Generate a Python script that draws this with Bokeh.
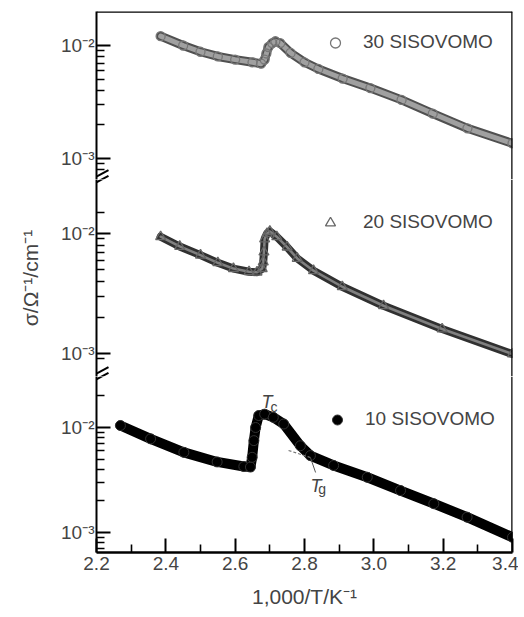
from bokeh.plotting import figure
from bokeh.models import Range1d, FixedTicker, Span, Label, Legend, LegendItem, PrintfTickFormatter, Arrow
from bokeh.layouts import column
from bokeh.embed import file_html
from bokeh.resources import INLINE

FONT = "Liberation Sans"

# ---------------- data ----------------
s30_x = [2.385, 2.45, 2.50, 2.55, 2.60, 2.65, 2.675, 2.685, 2.690, 2.696, 2.707, 2.716,
         2.73, 2.76, 2.80, 2.84, 2.91, 2.99, 3.08, 3.17, 3.27, 3.40]
s30_sigma = [0.0121, 0.0100, 0.0088, 0.0080, 0.0075, 0.0071, 0.0069, 0.0075, 0.0085, 0.0097,
             0.0105, 0.0109, 0.0105, 0.0086, 0.0071, 0.0062, 0.0051, 0.0042, 0.0033, 0.0025,
             0.00185, 0.00136]

s20_x = [2.385, 2.44, 2.50, 2.55, 2.595, 2.64, 2.663, 2.678, 2.681, 2.683, 2.685, 2.692,
         2.700, 2.72, 2.75, 2.779, 2.826, 2.909, 3.028, 3.197, 3.40]
s20_sigma = [0.0094, 0.0078, 0.0066, 0.0057, 0.0051, 0.0048, 0.00476, 0.0051, 0.0058, 0.0070,
             0.0090, 0.0100, 0.0104, 0.0094, 0.0077, 0.0062, 0.0049, 0.0036, 0.0025, 0.0016,
             0.00099]

s10_x = [2.269, 2.356, 2.452, 2.548, 2.625, 2.644, 2.649, 2.654, 2.659, 2.668, 2.685, 2.71,
         2.740, 2.788, 2.817, 2.884, 2.981, 3.077, 3.173, 3.269, 3.40]
s10_sigma = [0.01045, 0.0078, 0.0058, 0.0047, 0.00425, 0.0042, 0.0052, 0.0075, 0.0100, 0.0130,
             0.0134, 0.0125, 0.0108, 0.0067, 0.0054, 0.00435, 0.00336, 0.00251, 0.00188,
             0.0014, 0.0009]

# Tg construction lines (10 SISOVOMO)
tg_tangent_x = [2.754, 2.817]
tg_tangent_sigma = [0.00604, 0.00518]
tg_pointer_x = [2.817, 2.832]
tg_pointer_sigma = [0.00518, 0.00373]

series_labels = ["30 SISOVOMO", "20 SISOVOMO", "10 SISOVOMO"]

x_major_ticks = [2.2, 2.4, 2.6, 2.8, 3.0, 3.2, 3.4]
x_minor_ticks = [2.3, 2.5, 2.7, 2.9, 3.1, 3.3]
y_major_ticks = [0.001, 0.01]
y_tick_labels = {0.001: "10\u207b\u00b3", 0.01: "10\u207b\u00b2"}
minor_top = [0.0008, 0.0009, 0.002, 0.003, 0.004, 0.005, 0.006, 0.007, 0.008, 0.009]
minor_mid = [0.0009, 0.002, 0.003, 0.004, 0.005, 0.006, 0.007, 0.008, 0.009, 0.015]
minor_bot = [0.0007, 0.0008, 0.0009, 0.002, 0.003, 0.004, 0.005, 0.006, 0.007, 0.008, 0.009, 0.02]

x_label = "1,000/T/K\u207b\u00b9"
y_label = "\u03c3/\u03a9\u207b\u00b9/cm\u207b\u00b9"

# ---------------- layout ----------------
LEFT = 96
RIGHT = 6
FRAME_W = 416
W = LEFT + FRAME_W + RIGHT
X0, X1 = 2.2, 3.4
xr = Range1d(X0, X1)
PX_X = (X1 - X0) / FRAME_W  # data units per pixel along x


def panel(height, y0, y1, top, bottom, minor, with_xaxis):
    p = figure(width=W, height=height, x_range=xr, y_range=Range1d(y0, y1),
               y_axis_type="log", x_axis_location="below" if with_xaxis else None,
               toolbar_location=None, output_backend="svg", title=None,
               min_border_left=LEFT, min_border_right=RIGHT,
               min_border_top=top, min_border_bottom=bottom)
    p.outline_line_color = None
    p.xgrid.visible = False
    p.ygrid.visible = False
    ax = p.yaxis[0]
    ax.ticker = FixedTicker(ticks=y_major_ticks, minor_ticks=minor)
    ax.major_label_overrides = y_tick_labels
    ax.axis_line_width = 2
    ax.major_tick_in = 14
    ax.major_tick_out = 0
    ax.minor_tick_in = 8
    ax.minor_tick_out = 0
    ax.major_tick_line_width = 2
    ax.minor_tick_line_width = 1.6
    ax.major_label_text_font = FONT
    ax.major_label_text_font_size = "19px"
    ax.major_label_standoff = 2
    p.add_layout(Span(location=X1, dimension="height", line_color="black", line_width=2.5))
    return p


def break_marks(p, b, decade_px):
    # two parallel slanted strokes crossing the left axis at the panel boundary b
    def yv(dy):  # dy pixels downward from boundary
        return b * 10 ** (-dy / decade_px)
    for off in (-2.8, 2.8):
        p.add_layout(Arrow(x_start=X0 - 13 * PX_X, y_start=yv(7.0 + off),
                           x_end=X0 + 12 * PX_X, y_end=yv(-6.5 + off),
                           start=None, end=None, line_color="black", line_width=2))


def legend(p, label, r, loc, standoff):
    lg = Legend(items=[LegendItem(label=label, renderers=[r])], location=loc,
                glyph_width=40, glyph_height=25, label_height=25, label_standoff=standoff,
                padding=0, margin=0, spacing=0, border_line_color=None,
                background_fill_alpha=0, label_text_font=FONT, label_text_font_size="19px")
    p.add_layout(lg)


# panel ranges chosen so that decades sit where they sit in the picture
D1, D2, D3 = 113, 120, 105
p1_lo, p1_hi = 10 ** (-3 - 21 / D1), 10 ** (-2 + 34 / D1)
p2_lo, p2_hi = 10 ** (-3 - 23 / D2), 10 ** (-2 + 54 / D2)
p3_lo, p3_hi = 10 ** (-3 - 20 / D3), 10 ** (-2 + 51 / D3)

p1 = panel(179, p1_lo, p1_hi, 11, 0, minor_top, False)
p2 = panel(197, p2_lo, p2_hi, 0, 0, minor_mid, False)
p3 = panel(239, p3_lo, p3_hi, 0, 63, minor_bot, True)

p1.add_layout(Span(location=p1_hi, dimension="width", line_color="black", line_width=2.5))

# 30 SISOVOMO
p1.line(s30_x, s30_sigma, line_color="#505050", line_width=9, line_join="round", line_cap="round")
p1.line(s30_x, s30_sigma, line_color="#a0a0a0", line_width=5, line_join="round", line_cap="round")
r30 = p1.scatter(s30_x, s30_sigma, marker="circle", size=9, fill_color=None,
                 line_color="#777777", line_width=1.3)
legend(p1, series_labels[0], r30, (219, 124.5), 8)

# 20 SISOVOMO
p2.line(s20_x, s20_sigma, line_color="#303030", line_width=8, line_join="round", line_cap="round")
p2.line(s20_x, s20_sigma, line_color="#808080", line_width=2.5, line_join="round", line_cap="round")
r20 = p2.scatter(s20_x, s20_sigma, marker="triangle", size=10, fill_color=None,
                 line_color="#666666", line_width=1.3)
legend(p2, series_labels[1], r20, (214, 141.5), 13)

# 10 SISOVOMO
p3.line(s10_x, s10_sigma, line_color="black", line_width=10, line_join="round", line_cap="round")
r10 = p3.scatter(s10_x, s10_sigma, marker="circle", size=10, fill_color="black",
                 line_color="#333333", line_width=1)
legend(p3, series_labels[2], r10, (221, 120.5), 8)

p3.line(tg_tangent_x, tg_tangent_sigma, line_color="#777777", line_width=1.2, line_dash="3 2")
p3.line(tg_pointer_x, tg_pointer_sigma, line_color="#555555", line_width=1)

for txt, x, y, style, size in [("T", 2.676, 0.0176, "italic", "18px"),
                               ("c", 2.702, 0.0158, "normal", "14px"),
                               ("T", 2.817, 0.0028, "italic", "18px"),
                               ("g", 2.840, 0.00257, "normal", "14px")]:
    p3.add_layout(Label(x=x, y=y, text=txt, text_font=FONT, text_font_style=style,
                        text_font_size=size, text_align="left", text_baseline="alphabetic"))

# bottom axis
xa = p3.xaxis[0]
xa.ticker = FixedTicker(ticks=x_major_ticks, minor_ticks=x_minor_ticks)
xa.formatter = PrintfTickFormatter(format="%.1f")
xa.axis_line_width = 2.5
xa.major_tick_in = 14
xa.major_tick_out = 0
xa.minor_tick_in = 8
xa.minor_tick_out = 0
xa.major_tick_line_width = 2
xa.minor_tick_line_width = 1.6
xa.major_label_text_font = FONT
xa.major_label_text_font_size = "19px"
xa.major_label_standoff = 4
xa.axis_label = x_label
xa.axis_label_text_font = FONT
xa.axis_label_text_font_style = "normal"
xa.axis_label_text_font_size = "21px"
xa.axis_label_standoff = 12

ya = p2.yaxis[0]
ya.axis_label = y_label
ya.axis_label_text_font = FONT
ya.axis_label_text_font_style = "normal"
ya.axis_label_text_font_size = "21px"
ya.axis_label_standoff = 16

# axis breaks
break_marks(p1, p1_lo, D1)
break_marks(p2, p2_hi, D2)
break_marks(p2, p2_lo, D2)
break_marks(p3, p3_hi, D3)

page = column(p1, p2, p3, spacing=0)
open("out.html", "w").write(file_html(page, INLINE))
